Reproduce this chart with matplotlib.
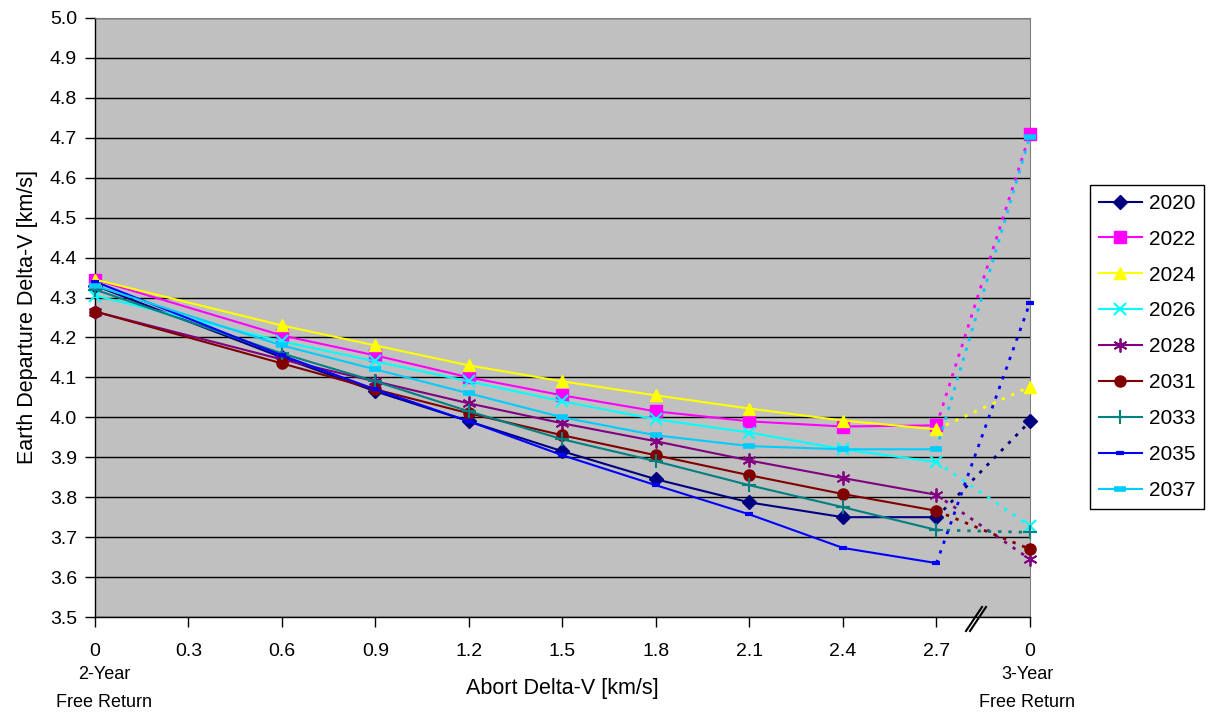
import numpy as np
import matplotlib.pyplot as plt
from matplotlib.lines import Line2D

plt.rcParams['font.family'] = ['Liberation Sans', 'DejaVu Sans']

# abort delta-v points (km/s) along the 2-year trajectory
abort_dv = [0, 0.6, 0.9, 1.2, 1.5, 1.8, 2.1, 2.4, 2.7]
free3_pos = 3.0   # where the 3-year free return sits on the axis

years = ["2020", "2022", "2024", "2026", "2028", "2031", "2033", "2035", "2037"]

dv_2020 = [4.33, 4.15, 4.065, 3.99, 3.915, 3.845, 3.787, 3.750, 3.750]
dv_2022 = [4.345, 4.205, 4.155, 4.100, 4.055, 4.015, 3.990, 3.977, 3.980]
dv_2024 = [4.345, 4.230, 4.180, 4.130, 4.090, 4.055, 4.022, 3.992, 3.970]
dv_2026 = [4.305, 4.190, 4.140, 4.090, 4.040, 3.995, 3.962, 3.920, 3.888]
dv_2028 = [4.265, 4.145, 4.090, 4.035, 3.985, 3.940, 3.892, 3.848, 3.806]
dv_2031 = [4.265, 4.135, 4.070, 4.010, 3.955, 3.905, 3.855, 3.808, 3.766]
dv_2033 = [4.320, 4.160, 4.090, 4.015, 3.945, 3.890, 3.830, 3.775, 3.718]
dv_2035 = [4.340, 4.155, 4.070, 3.990, 3.905, 3.830, 3.757, 3.673, 3.635]
dv_2037 = [4.330, 4.180, 4.120, 4.060, 4.000, 3.955, 3.928, 3.920, 3.920]

# departure delta-v of the 3-year free return
free3 = [3.990, 4.710, 4.077, 3.728, 3.645, 3.670, 3.712, 4.287, 4.703]

series = [dv_2020, dv_2022, dv_2024, dv_2026, dv_2028,
          dv_2031, dv_2033, dv_2035, dv_2037]

colors = ["#000080", "#FF00FF", "#FFFF00", "#00FFFF", "#800080",
          "#800000", "#008080", "#0000FF", "#00CCFF"]
markers = ["D", "s", "^", "x", (6, 2, 0), "o", "+", "_", "_"]
msizes = [7, 8, 9, 9, 10, 8, 10, 6, 9]
mews = [1, 1, 1, 1.5, 1.3, 1, 1.5, 3, 4]

fig = plt.figure(figsize=(12.11, 7.13), dpi=100)
ax = fig.add_axes([0.0784, 0.1346, 0.7721, 0.8402])
ax.set_facecolor("#C0C0C0")

for yr, vals, c, m, ms, mew, f3 in zip(years, series, colors, markers,
                                        msizes, mews, free3):
    ax.plot(abort_dv, vals, color=c, linewidth=1.5, marker=m, markersize=ms,
            markeredgewidth=mew, markeredgecolor=c, markerfacecolor=c,
            label=yr, clip_on=False, zorder=3)
    # dotted link to the 3-year free return
    ax.plot([abort_dv[-1], free3_pos], [vals[-1], f3], color=c, linewidth=2,
            linestyle=(0, (1.2, 2.5)), zorder=3)
    ax.plot([free3_pos], [f3], linestyle="none", marker=m, markersize=ms,
            markeredgewidth=mew, color=c, clip_on=False, zorder=3)

ax.set_xlim(0, 3.0)
ax.set_ylim(3.5, 5.0)
ax.set_yticks(np.arange(3.5, 5.01, 0.1))
ax.set_yticklabels(["%.1f" % v for v in np.arange(3.5, 5.01, 0.1)])
ax.set_xticks(abort_dv[:1] + [0.3] + abort_dv[1:] + [free3_pos])
ax.set_xticklabels(["0", "0.3", "0.6", "0.9", "1.2", "1.5", "1.8", "2.1",
                    "2.4", "2.7", "0"])
ax.tick_params(axis="both", direction="out", length=7, width=1,
               labelsize=14, colors="black")
ax.tick_params(axis="x", pad=12)
ax.tick_params(axis="y", pad=6)
ax.yaxis.grid(True, color="black", linewidth=1)
ax.set_axisbelow(True)
for s in ["left", "bottom"]:
    ax.spines[s].set_color("black")
    ax.spines[s].set_linewidth(1)
ax.spines["right"].set_color("#808080")
ax.spines["top"].set_color("#808080")

ax.set_xlabel("Abort Delta-V [km/s]", fontsize=15.5, labelpad=13)
ax.set_ylabel("Earth Departure Delta-V [km/s]", fontsize=15.5, labelpad=8)

# free return labels under the end ticks
ax.text(0.01, -0.082, "2-Year\nFree Return", transform=ax.transAxes,
        ha="center", va="top", fontsize=13, linespacing=1.85)
ax.text(0.997, -0.082, "3-Year\nFree Return", transform=ax.transAxes,
        ha="center", va="top", fontsize=13, linespacing=1.85)

# axis break mark
for dx in (0, 4):
    fig.add_artist(Line2D([(966 + dx) / 1211, (982 + dx) / 1211],
                          [1 - 631 / 713, 1 - 607 / 713],
                          color="black", linewidth=1.5))

leg = ax.legend(loc="upper left", bbox_to_anchor=(1.064, 0.721),
                fontsize=15, frameon=True, fancybox=False, framealpha=1,
                edgecolor="black", handlelength=2.1, labelspacing=0.81,
                borderpad=0.42, handletextpad=0.3, borderaxespad=0)
leg.get_frame().set_linewidth(1)

fig.savefig("out.png", dpi=100)
